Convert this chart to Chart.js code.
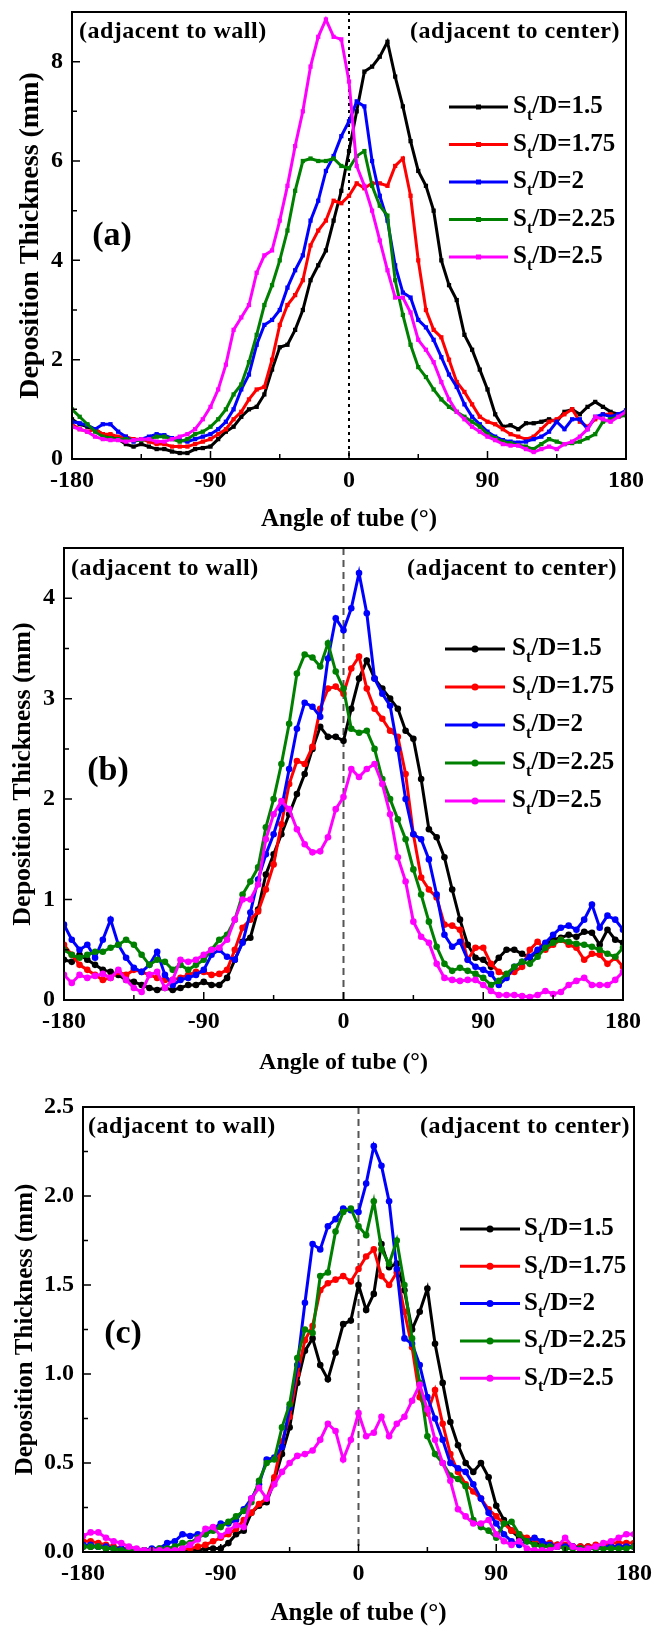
<!DOCTYPE html>
<html>
<head>
<meta charset="utf-8">
<script src="https://cdn.jsdelivr.net/npm/chart.js@4.4.1/dist/chart.umd.min.js"></script>
<style>
  body { margin: 0; background: #fff; }
  #wrap { position: relative; width: 654px; height: 1629px; overflow: hidden; background: #fff; }
  canvas { position: absolute; left: 0; }
</style>
</head>
<body>
<div id="wrap">
  <canvas id="chartA" width="654" height="540" style="top:0px"></canvas>
  <canvas id="chartB" width="654" height="550" style="top:530px"></canvas>
  <canvas id="chartC" width="654" height="559" style="top:1070px"></canvas>
</div>
<script>
// angle positions (deg) shared by every curve
const anglesDeg = [-180, -175, -170, -165, -160, -155, -150, -145, -140, -135,
  -130, -125, -120, -115, -110, -105, -100, -95, -90, -85,
  -80, -75, -70, -65, -60, -55, -50, -45, -40, -35,
  -30, -25, -20, -15, -10, -5, 0, 5, 10, 15,
  20, 25, 30, 35, 40, 45, 50, 55, 60, 65,
  70, 75, 80, 85, 90, 95, 100, 105, 110, 115,
  120, 125, 130, 135, 140, 145, 150, 155, 160, 165,
  170, 175, 180];

const xMajor = [-180, -90, 0, 90, 180];
const xMinor = [-135, -45, 45, 135];
const ratioLabels = ['1.5', '1.75', '2', '2.25', '2.5'];
const seriesColors = ['#000000', '#ff0000', '#0000ff', '#008000', '#ff00ff'];

// ---- panel (a) ----
const yMajorA = [0, 2, 4, 6, 8];
const yMinorA = [1, 3, 5, 7];
const thickA_15 = [0.8, 0.7, 0.65, 0.6, 0.5, 0.45, 0.4, 0.3, 0.25, 0.3,
  0.25, 0.2, 0.2, 0.15, 0.12, 0.12, 0.2, 0.22, 0.25, 0.4,
  0.55, 0.65, 0.85, 1.0, 1.05, 1.3, 1.8, 2.25, 2.3, 2.6,
  3.0, 3.6, 3.9, 4.2, 4.8, 5.4, 6.2, 7.0, 7.8, 7.9,
  8.1, 8.4, 7.7, 7.1, 6.4, 5.8, 5.5, 5.0, 4.0, 3.5,
  3.2, 2.5, 2.2, 1.8, 1.4, 0.9, 0.65, 0.68, 0.6, 0.72,
  0.72, 0.75, 0.8, 0.75, 0.95, 1.0, 0.9, 1.05, 1.15, 1.05,
  0.95, 0.9, 0.9];
const thickA_175 = [0.7, 0.6, 0.55, 0.6, 0.5, 0.5, 0.45, 0.45, 0.4, 0.4,
  0.35, 0.3, 0.3, 0.25, 0.25, 0.25, 0.3, 0.35, 0.4, 0.5,
  0.6, 0.8, 0.95, 1.2, 1.4, 1.45, 2.0, 2.7, 3.1, 3.3,
  3.6, 4.3, 4.6, 4.8, 5.2, 5.15, 5.3, 5.55, 5.45, 5.55,
  5.55, 5.5, 5.9, 6.05, 5.3, 4.0, 3.0, 2.6, 2.45, 2.0,
  1.55, 1.35, 1.1, 0.85, 0.75, 0.7, 0.6, 0.5, 0.45, 0.4,
  0.45, 0.6, 0.75, 0.8, 0.9, 1.0, 0.75, 0.65, 0.8, 0.9,
  0.9, 0.85, 0.9];
const thickA_2 = [0.75, 0.72, 0.68, 0.6, 0.7, 0.7, 0.55, 0.45, 0.35, 0.4,
  0.45, 0.5, 0.48, 0.42, 0.38, 0.35, 0.4, 0.45, 0.5, 0.6,
  0.75, 1.0, 1.4, 1.7, 2.3, 2.7, 2.8, 3.0, 3.45, 3.8,
  4.1, 4.8, 5.2, 5.8, 6.1, 6.5, 6.8, 7.2, 7.1, 6.0,
  5.3, 4.8, 3.9, 3.35, 3.25, 2.8, 2.65, 2.4, 2.05, 1.7,
  1.45, 1.1, 0.85, 0.7, 0.55, 0.45, 0.38, 0.35, 0.33, 0.35,
  0.4, 0.45, 0.55, 0.75, 0.6, 0.8, 0.8, 0.6, 0.85, 0.9,
  0.85, 0.9, 0.98];
const thickA_225 = [1.0, 0.85, 0.7, 0.55, 0.45, 0.42, 0.4, 0.4, 0.38, 0.38,
  0.4, 0.45, 0.45, 0.4, 0.35, 0.4, 0.5, 0.55, 0.65, 0.8,
  1.0, 1.3, 1.5, 1.95, 2.5, 3.1, 3.5, 4.0, 4.6, 5.4,
  6.0, 6.05, 6.0, 6.0, 6.05, 5.9, 5.85, 6.1, 6.2, 5.5,
  5.1, 4.9, 3.6, 2.9, 2.3, 1.85, 1.65, 1.4, 1.2, 1.05,
  0.95, 0.85, 0.75, 0.65, 0.5, 0.42, 0.35, 0.32, 0.28, 0.25,
  0.2, 0.3, 0.4, 0.35, 0.3, 0.32, 0.35, 0.42, 0.5, 0.75,
  0.8, 0.85, 0.88];
const thickA_25 = [0.65, 0.6, 0.55, 0.45, 0.4, 0.38, 0.38, 0.35, 0.38, 0.4,
  0.4, 0.35, 0.35, 0.4, 0.45, 0.5, 0.6, 0.8, 1.05, 1.4,
  1.9, 2.6, 2.85, 3.1, 3.75, 4.1, 4.2, 4.8, 5.5, 6.3,
  7.0, 7.9, 8.5, 8.85, 8.5, 8.45, 7.6, 5.9, 5.5, 5.0,
  4.4, 3.8, 3.25, 3.25, 2.95, 2.4, 2.2, 1.95, 1.55, 1.2,
  0.95, 0.8, 0.65, 0.55, 0.45, 0.38, 0.3, 0.27, 0.27, 0.2,
  0.14, 0.2, 0.25, 0.2, 0.3, 0.35, 0.45, 0.6, 0.85, 0.8,
  0.75, 0.85, 0.95];

// ---- panel (b) ----
const yMajorB = [0, 1, 2, 3, 4];
const yMinorB = [0.5, 1.5, 2.5, 3.5];
const thickB_15 = [0.4, 0.38, 0.45, 0.4, 0.35, 0.3, 0.28, 0.25, 0.2, 0.18,
  0.15, 0.12, 0.1, 0.12, 0.1, 0.12, 0.15, 0.15, 0.18, 0.15,
  0.15, 0.22, 0.4, 0.58, 0.62, 0.9, 1.25, 1.45, 1.65, 1.85,
  2.05, 2.25, 2.5, 2.72, 2.62, 2.62, 2.58, 2.9, 3.2, 3.38,
  3.2, 3.1, 3.0, 2.9, 2.68, 2.6, 2.2, 1.7, 1.62, 1.42,
  1.1, 0.8, 0.55, 0.42, 0.4, 0.33, 0.42, 0.5, 0.5, 0.46,
  0.42, 0.48, 0.55, 0.6, 0.62, 0.65, 0.63, 0.68, 0.67, 0.55,
  0.7, 0.6, 0.57];
const thickB_175 = [0.55, 0.45, 0.35, 0.3, 0.25, 0.2, 0.22, 0.28, 0.25, 0.3,
  0.28, 0.25, 0.22, 0.2, 0.2, 0.22, 0.25, 0.28, 0.28, 0.25,
  0.26, 0.3, 0.5, 0.72, 0.8, 0.88, 1.1, 1.35, 1.75, 2.15,
  2.38, 2.35, 2.52, 2.9, 3.1, 3.12, 3.05, 3.3, 3.42, 3.1,
  2.9, 2.8, 2.68, 2.62, 2.25, 1.65, 1.22, 1.1, 1.02, 0.75,
  0.74, 0.7, 0.4, 0.52, 0.52, 0.36, 0.28, 0.25, 0.28, 0.33,
  0.5, 0.58, 0.5, 0.55, 0.6, 0.55, 0.52, 0.4, 0.46, 0.45,
  0.36, 0.42, 0.33];
const thickB_2 = [0.75, 0.6, 0.5, 0.55, 0.42, 0.6, 0.8, 0.55, 0.42, 0.32,
  0.28, 0.35, 0.48, 0.25, 0.15, 0.2, 0.22, 0.25, 0.3, 0.45,
  0.5, 0.43, 0.4, 0.57, 0.87, 1.2, 1.45, 1.65, 1.9, 2.3,
  2.7, 2.96, 2.92, 2.82, 3.4, 3.8, 3.68, 3.9, 4.25, 3.85,
  3.2, 3.05, 2.93, 2.5, 2.0, 1.65, 1.6, 1.4, 1.05, 0.65,
  0.53, 0.58, 0.4, 0.33, 0.3, 0.26, 0.15, 0.22, 0.33, 0.38,
  0.43, 0.5, 0.57, 0.65, 0.72, 0.74, 0.7, 0.8, 0.95, 0.72,
  0.84, 0.8, 0.7];
const thickB_225 = [0.5, 0.45, 0.42, 0.45, 0.48, 0.48, 0.52, 0.55, 0.6, 0.55,
  0.45, 0.35, 0.4, 0.38, 0.3, 0.35, 0.3, 0.35, 0.4, 0.5,
  0.6, 0.65, 0.8, 1.05, 1.18, 1.32, 1.72, 2.0, 2.35, 2.75,
  3.25, 3.44, 3.41, 3.32, 3.55, 3.27, 3.1, 2.7, 2.66, 2.68,
  2.5, 2.2, 2.0, 1.8, 1.6, 1.3, 1.05, 0.78, 0.53, 0.36,
  0.29, 0.32, 0.29, 0.26, 0.22, 0.15, 0.19, 0.26, 0.33, 0.38,
  0.36, 0.43, 0.52, 0.57, 0.6, 0.58, 0.56, 0.55, 0.53, 0.5,
  0.46, 0.43, 0.52];
const thickB_25 = [0.25, 0.17, 0.25, 0.22, 0.24, 0.26, 0.22, 0.3, 0.2, 0.12,
  0.08, 0.25, 0.28, 0.12, 0.2, 0.4, 0.38, 0.4, 0.45, 0.5,
  0.52, 0.6, 0.8, 1.0, 1.0, 1.15, 1.6, 1.85, 1.98, 1.9,
  1.7, 1.55, 1.47, 1.48, 1.62, 1.9, 2.02, 2.3, 2.22, 2.3,
  2.35, 2.15, 1.85, 1.42, 1.18, 0.78, 0.63, 0.57, 0.36, 0.22,
  0.2, 0.19, 0.2, 0.2, 0.15, 0.09, 0.05, 0.05, 0.05, 0.04,
  0.03, 0.05, 0.09, 0.06, 0.08, 0.15, 0.19, 0.22, 0.15, 0.15,
  0.15, 0.2, 0.28];

// ---- panel (c) ----
const yMajorC = [0, 0.5, 1.0, 1.5, 2.0, 2.5];
const yMinorC = [0.25, 0.75, 1.25, 1.75, 2.25];
const thickC_15 = [0.03, 0.03, 0.03, 0.02, 0.02, 0.02, 0.01, 0.01, 0.01, 0.01,
  0.01, 0.01, 0.01, 0.01, 0.01, 0.01, 0.02, 0.02, 0.02, 0.05,
  0.1, 0.12, 0.22, 0.26, 0.28, 0.4, 0.55, 0.7, 0.95, 1.13,
  1.2, 1.05, 0.97, 1.12, 1.28, 1.3, 1.5, 1.36, 1.45, 1.73,
  1.6, 1.62, 1.47, 1.25, 1.35, 1.48, 1.17, 0.95, 0.73, 0.6,
  0.5, 0.45, 0.5, 0.42, 0.26, 0.18, 0.12, 0.08, 0.06, 0.05,
  0.04, 0.04, 0.04, 0.03, 0.03, 0.03, 0.03, 0.03, 0.03, 0.03,
  0.03, 0.03, 0.03];
const thickC_175 = [0.06, 0.06, 0.05, 0.04, 0.03, 0.02, 0.02, 0.01, 0.01, 0.01,
  0.01, 0.01, 0.01, 0.02, 0.02, 0.03, 0.04, 0.06, 0.08, 0.1,
  0.13, 0.18, 0.22, 0.27, 0.3, 0.42, 0.62, 0.76, 1.0, 1.19,
  1.27, 1.47, 1.51, 1.53, 1.55, 1.52, 1.59, 1.66, 1.7, 1.55,
  1.5, 1.57, 1.35, 1.15, 0.87, 0.78, 0.91, 0.72, 0.55, 0.45,
  0.38, 0.34, 0.3, 0.24, 0.2, 0.16, 0.12, 0.1, 0.08, 0.07,
  0.05, 0.05, 0.04, 0.04, 0.03, 0.03, 0.03, 0.04, 0.04, 0.05,
  0.05, 0.05, 0.05];
const thickC_2 = [0.04, 0.04, 0.03, 0.03, 0.02, 0.02, 0.01, 0.01, 0.01, 0.02,
  0.02, 0.05, 0.06, 0.1, 0.09, 0.1, 0.1, 0.13, 0.16, 0.16,
  0.18, 0.24, 0.3, 0.38, 0.52, 0.53, 0.59, 0.81, 1.05, 1.4,
  1.73, 1.7, 1.83, 1.87, 1.93, 1.92, 1.91, 2.07, 2.28, 2.17,
  1.97, 1.59, 1.2, 1.17, 1.05, 0.87, 0.75, 0.63, 0.5, 0.47,
  0.45, 0.38, 0.3, 0.22, 0.16, 0.1, 0.06, 0.04, 0.06, 0.08,
  0.06, 0.04, 0.03, 0.03, 0.03, 0.02, 0.02, 0.02, 0.03, 0.03,
  0.03, 0.03, 0.03];
const thickC_225 = [0.03, 0.03, 0.03, 0.02, 0.02, 0.01, 0.01, 0.01, 0.01, 0.01,
  0.02, 0.02, 0.03, 0.05, 0.05, 0.08, 0.1, 0.12, 0.14, 0.17,
  0.2, 0.23, 0.28, 0.4, 0.5, 0.52, 0.7, 0.83, 1.09, 1.25,
  1.23, 1.55, 1.57, 1.8, 1.91, 1.93, 1.83, 1.78, 1.97, 1.7,
  1.62, 1.75, 1.5, 1.2, 0.95, 0.65, 0.55, 0.5, 0.43, 0.41,
  0.37, 0.18, 0.14, 0.12, 0.08, 0.16, 0.17, 0.1, 0.06, 0.04,
  0.03, 0.03, 0.03, 0.02, 0.02, 0.02, 0.02, 0.02, 0.02, 0.02,
  0.02, 0.02, 0.03];
const thickC_25 = [0.09, 0.11, 0.11, 0.08, 0.06, 0.05, 0.03, 0.02, 0.01, 0.01,
  0.01, 0.01, 0.01, 0.02, 0.04, 0.07, 0.13, 0.14, 0.09, 0.12,
  0.15, 0.14, 0.3, 0.36, 0.3, 0.38, 0.45, 0.5, 0.54, 0.55,
  0.57, 0.63, 0.72, 0.68, 0.52, 0.63, 0.78, 0.65, 0.67, 0.76,
  0.65, 0.72, 0.76, 0.85, 0.94, 0.8, 0.63, 0.5, 0.4, 0.24,
  0.2, 0.16, 0.16, 0.18, 0.1, 0.06, 0.04, 0.06, 0.02, 0.01,
  0.01, 0.01, 0.03, 0.08, 0.03, 0.01, 0.02, 0.03, 0.05, 0.06,
  0.08, 0.1, 0.1];

const FONT = '"Liberation Serif", "Times New Roman", serif';

// decorations: zero line, frame, inward ticks, notes, legend
function decorPlugin(p) {
    return {
        id: 'decor',
        beforeDatasetsDraw(chart) {
            const { ctx, chartArea: a, scales: { x } } = chart;
            const x0 = x.getPixelForValue(0);
            ctx.save();
            ctx.strokeStyle = p.zeroColor;
            ctx.lineWidth = 2;
            ctx.setLineDash(p.zeroDash);
            ctx.beginPath();
            ctx.moveTo(x0, a.top);
            ctx.lineTo(x0, a.bottom);
            ctx.stroke();
            ctx.restore();
        },
        afterDatasetsDraw(chart) {
            const { ctx, chartArea: a, scales: { x, y } } = chart;
            ctx.save();
            ctx.strokeStyle = '#000';
            ctx.lineWidth = 2;
            ctx.strokeRect(a.left, a.top, a.right - a.left, a.bottom - a.top);

            // ticks pointing into the plot
            ctx.lineWidth = 1.5;
            ctx.beginPath();
            xMajor.forEach(v => { const px = x.getPixelForValue(v); ctx.moveTo(px, a.bottom); ctx.lineTo(px, a.bottom - 8); });
            xMinor.forEach(v => { const px = x.getPixelForValue(v); ctx.moveTo(px, a.bottom); ctx.lineTo(px, a.bottom - 5); });
            p.yMajor.forEach(v => { const py = y.getPixelForValue(v); ctx.moveTo(a.left, py); ctx.lineTo(a.left + 8, py); });
            p.yMinor.forEach(v => { const py = y.getPixelForValue(v); ctx.moveTo(a.left, py); ctx.lineTo(a.left + 5, py); });
            ctx.stroke();

            // notes
            ctx.fillStyle = '#000';
            ctx.textBaseline = 'middle';
            ctx.font = 'bold 24px ' + FONT;
            ctx.letterSpacing = '0.5px';
            ctx.textAlign = 'left';
            ctx.fillText('(adjacent to wall)', p.wallX, p.noteY);
            ctx.textAlign = 'right';
            ctx.fillText('(adjacent to center)', p.centerX, p.noteY);
            ctx.letterSpacing = '0px';
            ctx.textAlign = 'center';
            ctx.font = 'bold 34px ' + FONT;
            ctx.fillText(p.tag, p.tagX, p.tagY);

            // legend
            ctx.textAlign = 'left';
            ratioLabels.forEach((lab, i) => {
                const ly = p.legY + i * p.legDY;
                ctx.strokeStyle = seriesColors[i];
                ctx.fillStyle = seriesColors[i];
                ctx.lineWidth = 3;
                ctx.beginPath();
                ctx.moveTo(p.legX1, ly);
                ctx.lineTo(p.legX2, ly);
                ctx.stroke();
                const mx = (p.legX1 + p.legX2) / 2;
                if (p.pointStyle === 'rect') {
                    ctx.fillRect(mx - 2.5, ly - 2.5, 5, 5);
                } else {
                    ctx.beginPath();
                    ctx.arc(mx, ly, 3.5, 0, Math.PI * 2);
                    ctx.fill();
                }
                ctx.fillStyle = '#000';
                let tx = p.legTextX;
                ctx.font = 'bold 25px ' + FONT;
                ctx.fillText('S', tx, ly);
                tx += ctx.measureText('S').width;
                ctx.font = 'bold 16px ' + FONT;
                ctx.fillText('t', tx, ly + 9);
                tx += ctx.measureText('t').width;
                ctx.font = 'bold 25px ' + FONT;
                ctx.fillText('/D=' + lab, tx, ly);
            });
            ctx.restore();
        }
    };
}

function makeChart(id, series, p) {
    const ctx = document.getElementById(id).getContext('2d');
    return new Chart(ctx, {
        type: 'line',
        data: {
            datasets: series.map((vals, i) => ({
                label: 'St/D=' + ratioLabels[i],
                data: anglesDeg.map((a, k) => ({ x: a, y: vals[k] })),
                borderColor: seriesColors[i],
                backgroundColor: seriesColors[i],
                borderWidth: 3,
                pointStyle: p.pointStyle,
                pointRadius: p.pointRadius,
                pointBorderWidth: 0,
                pointBackgroundColor: seriesColors[i],
                tension: 0,
                fill: false,
                order: 5 - i
            }))
        },
        options: {
            responsive: false,
            animation: false,
            devicePixelRatio: 1,
            layout: { padding: { top: p.padTop, right: p.padRight, bottom: p.padBottom, left: 0 } },
            plugins: { legend: { display: false }, tooltip: { enabled: false } },
            scales: {
                x: {
                    type: 'linear',
                    min: -180,
                    max: 180,
                    afterBuildTicks: s => { s.ticks = xMajor.map(v => ({ value: v })); },
                    afterFit: s => { s.height = p.xHeight; s.paddingLeft = 0; s.paddingRight = 0; },
                    grid: { display: false, drawTicks: false },
                    border: { display: false },
                    ticks: { color: '#000', padding: 7, autoSkip: false, maxRotation: 0,
                             font: { family: FONT, size: 24, weight: 'bold' } },
                    title: { display: true, text: 'Angle of tube (°)', color: '#000', padding: 0,
                             font: { family: FONT, size: p.xTitleSize, weight: 'bold' } }
                },
                y: {
                    min: 0,
                    max: p.yMax,
                    afterBuildTicks: s => { s.ticks = p.yMajor.map(v => ({ value: v })); },
                    afterFit: s => { s.width = p.yWidth; s.paddingTop = 0; s.paddingBottom = 0; },
                    grid: { display: false, drawTicks: false },
                    border: { display: false },
                    ticks: { color: '#000', padding: 9, autoSkip: false,
                             callback: v => p.yDecimals ? v.toFixed(1) : String(v),
                             font: { family: FONT, size: 24, weight: 'bold' } },
                    title: { display: true, text: 'Deposition Thickness (mm)', color: '#000',
                             padding: { top: p.yTitlePad, bottom: 0 },
                             font: { family: FONT, size: p.yTitleSize, weight: 'bold' } }
                }
            }
        },
        plugins: [decorPlugin(p)]
    });
}

const chartA = makeChart('chartA', [thickA_15, thickA_175, thickA_2, thickA_225, thickA_25], {
    padTop: 12, padRight: 28, padBottom: 5, xHeight: 76, yWidth: 72, yMax: 9,
    yMajor: yMajorA, yMinor: yMinorA, yDecimals: false,
    xTitleSize: 25, yTitleSize: 28, yTitlePad: 14,
    pointStyle: 'rect', pointRadius: 3,
    zeroColor: '#000', zeroDash: [3, 4],
    wallX: 79, centerX: 620, noteY: 32, tag: '(a)', tagX: 112, tagY: 236,
    legX1: 449, legX2: 508, legTextX: 513, legY: 107, legDY: 37.5
});

const chartB = makeChart('chartB', [thickB_15, thickB_175, thickB_2, thickB_225, thickB_25], {
    padTop: 18, padRight: 31, padBottom: 3, xHeight: 77, yWidth: 64, yMax: 4.5,
    yMajor: yMajorB, yMinor: yMinorB, yDecimals: false,
    xTitleSize: 24, yTitleSize: 26, yTitlePad: 8,
    pointStyle: 'circle', pointRadius: 3.3,
    zeroColor: '#555', zeroDash: [7, 5],
    wallX: 71, centerX: 617, noteY: 39, tag: '(b)', tagX: 108, tagY: 241,
    legX1: 445, legX2: 505, legTextX: 512, legY: 119, legDY: 38
});

const chartC = makeChart('chartC', [thickC_15, thickC_175, thickC_2, thickC_225, thickC_25], {
    padTop: 37, padRight: 20, padBottom: 0, xHeight: 77, yWidth: 83, yMax: 2.5,
    yMajor: yMajorC, yMinor: yMinorC, yDecimals: true,
    xTitleSize: 25, yTitleSize: 25, yTitlePad: 11,
    pointStyle: 'circle', pointRadius: 3.3,
    zeroColor: '#555', zeroDash: [7, 5],
    wallX: 88, centerX: 630, noteY: 57, tag: '(c)', tagX: 123, tagY: 264,
    legX1: 460, legX2: 520, legTextX: 524, legY: 159, legDY: 37.3
});
</script>
</body>
</html>
